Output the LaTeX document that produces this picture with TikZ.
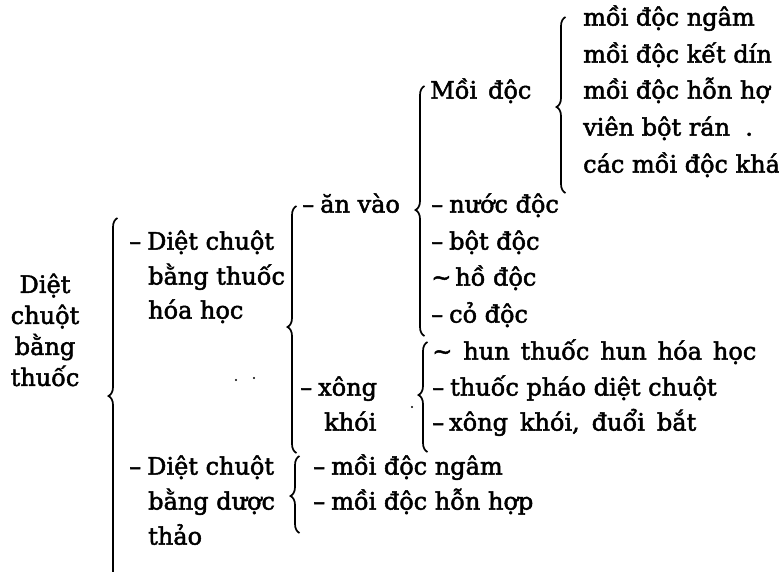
\documentclass[tikz,border=0pt]{standalone}
\usepackage{fontspec}
\setmainfont{DejaVu Serif}[FakeBold=2]
\usetikzlibrary{decorations.pathreplacing}
\newcommand\scanbrace[4]{% line x, top y, tip y, bottom y
  \pgfmathsetmacro\braceasp{(#4-#3)/(#4-#2)}%
  \draw[bracestyle=\braceasp] (#1+4.5,#4) -- (#1+4.5,#2);}
\newcommand\dsh{–\hspace{6pt}}
\newcommand\wordsp[1]{\spaceskip=#1\relax}
\begin{document}
\begin{tikzpicture}[x=1pt,y=-1pt,
  lbl/.style={anchor=mid west, inner sep=0pt, font=\fontsize{24}{28}\selectfont},
  bracestyle/.style={line width=1.7pt, decorate, decoration={brace, amplitude=9pt, aspect=#1}},
  speck/.style={fill=black, draw=none}
]
\clip (0,0) rectangle (779,571);
\fill[white] (0,0) rectangle (779,571);

% root
\node[anchor=center, align=center, inner sep=0pt, font=\fontsize{24}{31}\selectfont] (root) at (45,330) {Diệt\\chuột\\bằng\\thuốc};

% level 1
\node[lbl] (c1) at (129,247) {\dsh Diệt chuột};
\node[lbl] (c1b) at (148,282) {bằng thuốc};
\node[lbl] (c1c) at (148,316) {hóa học};
\node[lbl] (c2) at (129,472) {\dsh Diệt chuột};
\node[lbl] (c2b) at (148,507) {bằng dược};
\node[lbl] (c2c) at (148,542) {thảo};

% level 2
\node[lbl] (a1) at (302,210) {\dsh ăn vào};
\node[lbl] (a2) at (300,393) {\dsh xông};
\node[lbl] (a2b) at (324,428) {khói};
\node[lbl] (d1) at (313,472) {\dsh mồi độc ngâm};
\node[lbl] (d2) at (313,507) {\dsh mồi độc hỗn hợp};

% level 3
\node[lbl] (m0) at (430,96) {Mồi\hspace{11pt}độc};
\node[lbl] (n1) at (431,210) {\dsh nước độc};
\node[lbl] (n2) at (431,247) {\dsh bột độc};
\node[lbl] (n3) at (431,283) {\textasciitilde\,hồ độc};
\node[lbl] (n4) at (431,320) {\dsh cỏ độc};
\node[lbl] (x1) at (432,357) {\wordsp{11pt}\textasciitilde{} hun thuốc hun hóa học};
\node[lbl] (x2) at (432,393) {\dsh thuốc pháo diệt chuột};
\node[lbl] (x3) at (432,428) {\wordsp{12pt}–\hspace{5pt}xông khói, đuổi bắt};

% level 4 (cut by the page edge in the scan)
\node[lbl] (i1) at (583,23) {mồi độc ngâm};
\node[lbl] (i2) at (583,60) {mồi độc kết dín};
\node[lbl] (i3) at (583,96) {mồi độc hỗn hợ};
\node[lbl] (i4) at (583,133) {viên bột rán\ \ .};
\node[lbl] (i5) at (583,170) {các mồi độc khá};

% braces
\scanbrace{113}{218}{396}{600}
\scanbrace{292}{206}{327}{453}
\scanbrace{295}{456}{496}{533}
\scanbrace{420}{86}{210}{336}
\scanbrace{561}{17}{107}{193}
\scanbrace{423}{342}{395}{452}

% specks of the scan
\fill[speck] (236,380) circle (1.1);
\fill[speck] (254,378) circle (1.1);
\fill[speck] (412,407) circle (1.1);
\end{tikzpicture}
\end{document}
